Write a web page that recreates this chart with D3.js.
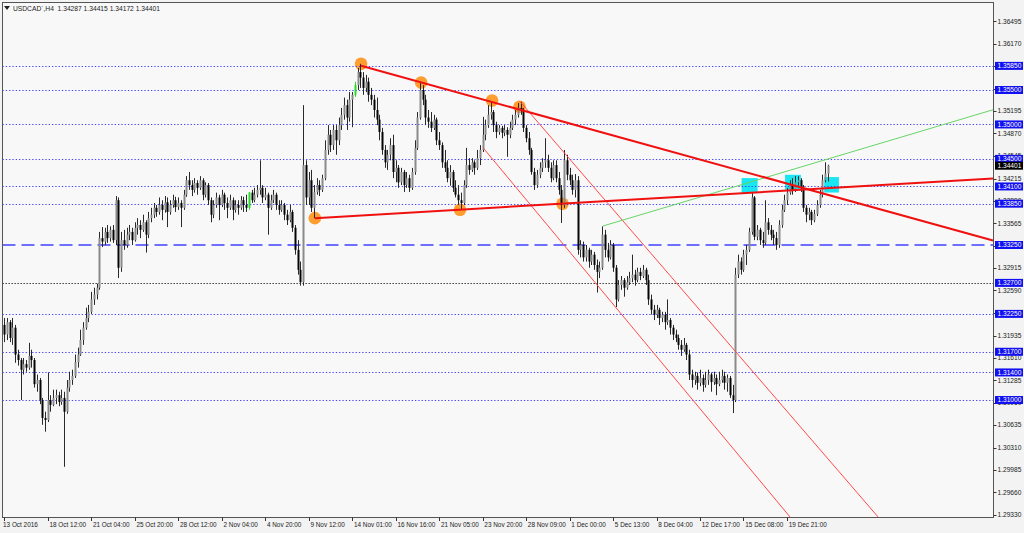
<!DOCTYPE html>
<html><head><meta charset="utf-8">
<script src="https://cdnjs.cloudflare.com/ajax/libs/d3/7.8.5/d3.min.js"></script>
<style>
html,body{margin:0;padding:0;background:#f3f3f3;}
svg{display:block;}
text{font-family:"Liberation Sans",Arial,sans-serif;}
</style></head><body>
<svg id="chart" width="1024" height="533"></svg>
<script>
// ---------- DATA ----------
const title = "USDCAD`,H4  1.34287 1.34415 1.34172 1.34401";

const opens = [
1.3209,1.3195,1.3213,1.3190,1.3205,1.3166,1.3158,1.3144,1.3152,1.3147,
1.3164,1.3158,1.3123,1.3129,1.3100,1.3074,1.3071,1.3100,1.3093,1.3103,
1.3107,1.3097,1.3103,1.3083,1.3118,1.3129,1.3135,1.3155,1.3166,1.3187,
1.3205,1.3219,1.3228,1.3246,1.3253,1.3263,1.3335,1.3330,1.3344,1.3335,
1.3347,1.3332,1.3390,1.3292,1.3332,1.3325,1.3340,1.3344,1.3332,1.3350,
1.3354,1.3347,1.3358,1.3340,1.3364,1.3369,1.3379,1.3373,1.3383,1.3376,
1.3387,1.3373,1.3383,1.3390,1.3380,1.3386,1.3379,1.3398,1.3419,1.3412,
1.3405,1.3415,1.3408,1.3419,1.3398,1.3412,1.3390,1.3369,1.3383,1.3394,
1.3383,1.3398,1.3386,1.3379,1.3390,1.3376,1.3383,1.3379,1.3390,1.3383,
1.3379,1.3401,1.3390,1.3398,1.3405,1.3408,1.3394,1.3398,1.3379,1.3390,
1.3398,1.3383,1.3376,1.3383,1.3369,1.3361,1.3373,1.3350,1.3318,1.3289,
1.3271,1.3441,1.3394,1.3419,1.3379,1.3402,1.3412,1.3405,1.3422,1.3463,
1.3485,1.3470,1.3492,1.3477,1.3499,1.3514,1.3528,1.3510,1.3536,1.3543,
1.3557,1.3576,1.3568,1.3553,1.3562,1.3543,1.3536,1.3521,1.3507,1.3489,
1.3463,1.3445,1.3456,1.3470,1.3431,1.3437,1.3416,1.3431,1.3412,1.3422,
1.3408,1.3431,1.3466,1.3510,1.3550,1.3536,1.3510,1.3504,1.3495,1.3507,
1.3477,1.3470,1.3445,1.3437,1.3422,1.3431,1.3408,1.3398,1.3390,1.3386,
1.3412,1.3441,1.3434,1.3445,1.3437,1.3451,1.3463,1.3485,1.3499,1.3514,
1.3518,1.3499,1.3489,1.3495,1.3488,1.3492,1.3485,1.3495,1.3507,1.3514,
1.3524,1.3521,1.3495,1.3480,1.3463,1.3431,1.3412,1.3427,1.3437,1.3445,
1.3448,1.3437,1.3422,1.3441,1.3422,1.3405,1.3383,1.3448,1.3427,1.3419,
1.3405,1.3419,1.3318,1.3325,1.3307,1.3318,1.3301,1.3311,1.3296,1.3286,
1.3292,1.3340,1.3318,1.3307,1.3325,1.3292,1.3246,1.3267,1.3274,1.3263,
1.3271,1.3277,1.3282,1.3274,1.3286,1.3280,1.3289,1.3274,1.3246,1.3231,
1.3224,1.3231,1.3219,1.3224,1.3213,1.3216,1.3205,1.3195,1.3190,1.3180,
1.3173,1.3180,1.3166,1.3137,1.3129,1.3135,1.3125,1.3132,1.3122,1.3129,
1.3137,1.3126,1.3132,1.3123,1.3129,1.3135,1.3125,1.3132,1.3107,1.3100,
1.3282,1.3301,1.3289,1.3311,1.3318,1.3344,1.3394,1.3337,1.3347,1.3332,
1.3328,1.3358,1.3347,1.3340,1.3335,1.3325,1.3354,1.3376,1.3390,1.3401,
1.3412,1.3405,1.3416,1.3419,1.3408,1.3379,1.3369,1.3373,1.3361,1.3370,
1.3383,1.3398,1.3419,1.34287];

const highs = [
1.3219,1.3219,1.3216,1.3219,1.3209,1.3173,1.3161,1.3161,1.3158,1.3183,
1.3173,1.3161,1.3137,1.3132,1.3103,1.3083,1.3140,1.3107,1.3115,1.3115,
1.3112,1.3115,1.3112,1.3129,1.3141,1.3144,1.3166,1.3176,1.3202,1.3213,
1.3234,1.3238,1.3257,1.3263,1.3269,1.3344,1.3351,1.3350,1.3354,1.3352,
1.3354,1.3396,1.3394,1.3344,1.3347,1.3350,1.3354,1.3350,1.3358,1.3364,
1.3361,1.3369,1.3361,1.3373,1.3379,1.3386,1.3383,1.3394,1.3390,1.3396,
1.3394,1.3390,1.3398,1.3395,1.3394,1.3390,1.3405,1.3425,1.3431,1.3419,
1.3422,1.3419,1.3425,1.3422,1.3416,1.3415,1.3394,1.3390,1.3401,1.3398,
1.3405,1.3401,1.3394,1.3398,1.3394,1.3390,1.3390,1.3396,1.3395,1.3398,
1.3402,1.3405,1.3408,1.3412,1.3448,1.3412,1.3408,1.3401,1.3398,1.3405,
1.3401,1.3390,1.3390,1.3386,1.3376,1.3383,1.3376,1.3354,1.3332,1.3301,
1.3528,1.3448,1.3431,1.3434,1.3412,1.3422,1.3419,1.3427,1.3477,1.3499,
1.3492,1.3499,1.3499,1.3510,1.3524,1.3539,1.3536,1.3547,1.3547,1.3562,
1.3582,1.3588,1.3576,1.3572,1.3568,1.3553,1.3543,1.3539,1.3514,1.3495,
1.3470,1.3463,1.3480,1.3485,1.3448,1.3441,1.3437,1.3434,1.3431,1.3427,
1.3437,1.3477,1.3518,1.3562,1.3557,1.3543,1.3521,1.3518,1.3514,1.3510,
1.3489,1.3474,1.3463,1.3448,1.3441,1.3434,1.3419,1.3412,1.3401,1.3419,
1.3466,1.3451,1.3451,1.3448,1.3463,1.3470,1.3511,1.3507,1.3528,1.3534,
1.3521,1.3504,1.3499,1.3498,1.3499,1.3496,1.3504,1.3514,1.3521,1.3531,
1.3533,1.3524,1.3499,1.3489,1.3466,1.3437,1.3434,1.3445,1.3451,1.3480,
1.3456,1.3445,1.3448,1.3448,1.3431,1.3412,1.3463,1.3456,1.3437,1.3427,
1.3428,1.3425,1.3332,1.3330,1.3325,1.3321,1.3318,1.3315,1.3304,1.3301,
1.3352,1.3347,1.3328,1.3332,1.3328,1.3296,1.3274,1.3280,1.3277,1.3280,
1.3286,1.3311,1.3289,1.3292,1.3292,1.3296,1.3292,1.3282,1.3253,1.3238,
1.3238,1.3234,1.3228,1.3228,1.3246,1.3219,1.3209,1.3202,1.3195,1.3187,
1.3190,1.3183,1.3173,1.3144,1.3141,1.3140,1.3144,1.3137,1.3141,1.3144,
1.3140,1.3141,1.3137,1.3141,1.3144,1.3141,1.3137,1.3135,1.3122,1.3292,
1.3311,1.3307,1.3318,1.3325,1.3350,1.3402,1.3396,1.3354,1.3350,1.3344,
1.3390,1.3364,1.3354,1.3347,1.3344,1.3361,1.3383,1.3398,1.3408,1.3419,
1.3422,1.3425,1.3425,1.3422,1.3412,1.3383,1.3379,1.3376,1.3376,1.3390,
1.3405,1.3427,1.3445,1.34415];

const lows = [
1.3184,1.3187,1.3184,1.3180,1.3154,1.3150,1.3100,1.3137,1.3141,1.3144,
1.3147,1.3118,1.3112,1.3094,1.3064,1.3054,1.3068,1.3083,1.3091,1.3094,
1.3091,1.3093,1.3003,1.3080,1.3112,1.3122,1.3132,1.3147,1.3164,1.3180,
1.3202,1.3213,1.3225,1.3238,1.3246,1.3260,1.3322,1.3325,1.3328,1.3330,
1.3328,1.3325,1.3277,1.3286,1.3318,1.3321,1.3332,1.3325,1.3330,1.3340,
1.3335,1.3344,1.3314,1.3335,1.3358,1.3364,1.3366,1.3369,1.3361,1.3372,
1.3351,1.3369,1.3379,1.3373,1.3376,1.3351,1.3376,1.3395,1.3405,1.3396,
1.3401,1.3398,1.3405,1.3390,1.3394,1.3383,1.3358,1.3364,1.3379,1.3361,
1.3380,1.3376,1.3364,1.3376,1.3361,1.3372,1.3369,1.3376,1.3373,1.3373,
1.3376,1.3386,1.3387,1.3394,1.3398,1.3386,1.3390,1.3340,1.3376,1.3386,
1.3376,1.3369,1.3373,1.3361,1.3354,1.3358,1.3344,1.3311,1.3282,1.3266,
1.3266,1.3383,1.3383,1.3373,1.3364,1.3398,1.3396,1.3402,1.3419,1.3456,
1.3460,1.3463,1.3456,1.3470,1.3492,1.3507,1.3492,1.3504,1.3496,1.3540,
1.3550,1.3553,1.3543,1.3547,1.3533,1.3528,1.3510,1.3499,1.3477,1.3456,
1.3437,1.3434,1.3448,1.3422,1.3416,1.3408,1.3412,1.3402,1.3408,1.3402,
1.3405,1.3427,1.3463,1.3507,1.3528,1.3499,1.3495,1.3489,1.3492,1.3470,
1.3463,1.3437,1.3431,1.3416,1.3411,1.3402,1.3394,1.3383,1.3376,1.3383,
1.3408,1.3427,1.3431,1.3427,1.3434,1.3441,1.3460,1.3477,1.3495,1.3507,
1.3489,1.3480,1.3485,1.3480,1.3483,1.3453,1.3480,1.3492,1.3499,1.3510,
1.3514,1.3489,1.3474,1.3456,1.3427,1.3405,1.3408,1.3422,1.3431,1.3437,
1.3431,1.3416,1.3419,1.3416,1.3398,1.3357,1.3379,1.3419,1.3412,1.3398,
1.3394,1.3311,1.3307,1.3301,1.3301,1.3292,1.3296,1.3289,1.3256,1.3277,
1.3289,1.3307,1.3301,1.3304,1.3286,1.3235,1.3243,1.3260,1.3250,1.3260,
1.3267,1.3271,1.3266,1.3271,1.3274,1.3277,1.3267,1.3238,1.3224,1.3216,
1.3219,1.3209,1.3213,1.3202,1.3209,1.3195,1.3187,1.3184,1.3173,1.3164,
1.3170,1.3158,1.3129,1.3118,1.3122,1.3115,1.3120,1.3112,1.3118,1.3122,
1.3112,1.3122,1.3107,1.3120,1.3125,1.3115,1.3112,1.3103,1.3081,1.3097,
1.3277,1.3282,1.3286,1.3296,1.3315,1.3340,1.3332,1.3332,1.3325,1.3321,
1.3325,1.3340,1.3332,1.3325,1.3318,1.3321,1.3350,1.3373,1.3383,1.3398,
1.3398,1.3402,1.3408,1.3402,1.3373,1.3358,1.3361,1.3354,1.3358,1.3367,
1.3379,1.3394,1.3416,1.34172];

const closes = [
1.3195,1.3213,1.3190,1.3205,1.3166,1.3158,1.3144,1.3152,1.3147,1.3164,
1.3158,1.3123,1.3129,1.3100,1.3074,1.3071,1.3100,1.3093,1.3103,1.3107,
1.3097,1.3103,1.3083,1.3118,1.3129,1.3135,1.3155,1.3166,1.3187,1.3205,
1.3219,1.3228,1.3246,1.3253,1.3263,1.3335,1.3330,1.3344,1.3335,1.3347,
1.3332,1.3390,1.3292,1.3332,1.3325,1.3340,1.3344,1.3332,1.3350,1.3354,
1.3347,1.3358,1.3340,1.3364,1.3369,1.3379,1.3373,1.3383,1.3376,1.3387,
1.3373,1.3383,1.3390,1.3380,1.3386,1.3379,1.3398,1.3419,1.3412,1.3405,
1.3415,1.3408,1.3419,1.3398,1.3412,1.3390,1.3369,1.3383,1.3394,1.3383,
1.3398,1.3386,1.3379,1.3390,1.3376,1.3383,1.3379,1.3390,1.3383,1.3379,
1.3401,1.3390,1.3398,1.3405,1.3408,1.3394,1.3398,1.3379,1.3390,1.3398,
1.3383,1.3376,1.3383,1.3369,1.3361,1.3373,1.3350,1.3318,1.3289,1.3271,
1.3441,1.3394,1.3419,1.3379,1.3402,1.3412,1.3405,1.3422,1.3463,1.3485,
1.3470,1.3492,1.3477,1.3499,1.3514,1.3528,1.3510,1.3536,1.3543,1.3557,
1.3576,1.3568,1.3553,1.3562,1.3543,1.3536,1.3521,1.3507,1.3489,1.3463,
1.3445,1.3456,1.3470,1.3431,1.3437,1.3416,1.3431,1.3412,1.3422,1.3408,
1.3431,1.3466,1.3510,1.3550,1.3536,1.3510,1.3504,1.3495,1.3507,1.3477,
1.3470,1.3445,1.3437,1.3422,1.3431,1.3408,1.3398,1.3390,1.3386,1.3412,
1.3441,1.3434,1.3445,1.3437,1.3451,1.3463,1.3485,1.3499,1.3514,1.3518,
1.3499,1.3489,1.3495,1.3488,1.3492,1.3485,1.3495,1.3507,1.3514,1.3524,
1.3521,1.3495,1.3480,1.3463,1.3431,1.3412,1.3427,1.3437,1.3445,1.3448,
1.3437,1.3422,1.3441,1.3422,1.3405,1.3383,1.3448,1.3427,1.3419,1.3405,
1.3419,1.3318,1.3325,1.3307,1.3318,1.3301,1.3311,1.3296,1.3286,1.3292,
1.3340,1.3318,1.3307,1.3325,1.3292,1.3246,1.3267,1.3274,1.3263,1.3271,
1.3277,1.3282,1.3274,1.3286,1.3280,1.3289,1.3274,1.3246,1.3231,1.3224,
1.3231,1.3219,1.3224,1.3213,1.3216,1.3205,1.3195,1.3190,1.3180,1.3173,
1.3180,1.3166,1.3137,1.3129,1.3135,1.3125,1.3132,1.3122,1.3129,1.3137,
1.3126,1.3132,1.3123,1.3129,1.3135,1.3125,1.3132,1.3107,1.3100,1.3282,
1.3301,1.3289,1.3311,1.3318,1.3344,1.3394,1.3337,1.3347,1.3332,1.3328,
1.3358,1.3347,1.3340,1.3335,1.3325,1.3354,1.3376,1.3390,1.3401,1.3412,
1.3405,1.3416,1.3419,1.3408,1.3379,1.3369,1.3373,1.3361,1.3370,1.3383,
1.3398,1.3419,1.34287,1.34401];

const greenBars = [90, 129];

const timeLabels = ["13 Oct 2016","18 Oct 12:00","21 Oct 04:00","25 Oct 20:00","28 Oct 12:00",
  "2 Nov 04:00","4 Nov 20:00","9 Nov 12:00","14 Nov 01:00","16 Nov 16:00","21 Nov 05:00",
  "23 Nov 20:00","28 Nov 09:00","1 Dec 00:00","5 Dec 13:00","8 Dec 04:00","12 Dec 17:00",
  "15 Dec 08:00","19 Dec 21:00"];
const timeLabelBars = [0,16,32,48,64,80,96,112,128,144,160,176,192,208,224,240,256,272,288];

const priceTicks = [1.36495,1.36170,1.35845,1.35520,1.35195,1.34870,1.34545,1.34215,1.33890,
  1.33565,1.33240,1.32915,1.32590,1.32265,1.31935,1.31610,1.31285,1.30960,1.30635,1.30310,
  1.29985,1.29660,1.29330];

const dottedLevels = [1.3585,1.3550,1.3500,1.3450,1.3410,1.3385,1.3225,1.3170,1.3140,1.3100];
const dashedLevels = [1.3325];
const blackLevels = [1.3270];
const lastPrice = 1.34401;

const pivotBars   = [131.3, 153.4, 179.5, 189.6, 114.3, 167.7, 205.4];
const pivotPrices = [1.35881,1.35609,1.35348,1.35256,1.33640,1.33761,1.33848];

// trend lines: [bar1, price1, bar2, price2]
const thickRedLines = [[131.3,1.35852,363.8,1.33315],[114.3,1.33640,363.8,1.34215]];
const thinRedLines  = [[176.2,1.34661,289.1,1.29303],[189.8,1.35333,321.5,1.29303]];
const greenLines    = [[220.3,1.33526,363.8,1.35213]];

// cyan zones: [bar1, bar2, priceTop, priceBottom]
const zones = [[271.3,277.2,1.34221,1.34003],[287.3,293.1,1.34269,1.34051],[301.7,307.1,1.34236,1.34012]];

// ---------- DRAW ----------
const W = 1024, H = 533;
const plot = {left: 2.5, right: 993.5, top: 2.5, bottom: 517.5};
const svg = d3.select("#chart");

const x = d3.scaleLinear().domain([0, 363.8]).range([4.2, 993]);
const y = d3.scaleLinear().domain([1.3100, 1.3550]).range([400, 90]);

svg.append("rect").attr("x",0).attr("y",0).attr("width",W).attr("height",H).attr("fill","#f3f3f3");
svg.append("rect").attr("x",plot.left).attr("y",plot.top)
  .attr("width",plot.right-plot.left).attr("height",plot.bottom-plot.top).attr("fill","#f8f8f8");

svg.append("defs").append("clipPath").attr("id","clip").append("rect")
  .attr("x",plot.left).attr("y",plot.top).attr("width",plot.right-plot.left).attr("height",plot.bottom-plot.top);
const g = svg.append("g").attr("clip-path","url(#clip)");

// zones (background)
g.selectAll("rect.zone").data(zones).enter().append("rect").attr("class","zone")
  .attr("x",d=>x(d[0])).attr("width",d=>x(d[1])-x(d[0]))
  .attr("y",d=>y(d[2])).attr("height",d=>y(d[3])-y(d[2]))
  .attr("fill","#19e6f0");

// pivot circles (background)
g.selectAll("circle.pv").data(pivotBars).enter().append("circle").attr("class","pv")
  .attr("cx",(d)=>x(d)).attr("cy",(d,i)=>y(pivotPrices[i])).attr("r",6.3)
  .attr("fill","#ff961e").attr("fill-opacity",0.92);

// horizontal levels
const crisp = v => Math.round(v)+0.5;
g.selectAll("line.dot").data(dottedLevels).enter().append("line")
  .attr("x1",plot.left).attr("x2",plot.right).attr("y1",d=>crisp(y(d))).attr("y2",d=>crisp(y(d)))
  .attr("stroke","#2f2fff").attr("stroke-width",1).attr("stroke-dasharray","1.3,2").attr("opacity",0.9);
g.selectAll("line.dash").data(dashedLevels).enter().append("line")
  .attr("x1",plot.left).attr("x2",plot.right).attr("y1",d=>y(d)).attr("y2",d=>y(d))
  .attr("stroke","#6f6fff").attr("stroke-width",2).attr("stroke-dasharray","13,6");
g.selectAll("line.blk").data(blackLevels).enter().append("line")
  .attr("x1",plot.left).attr("x2",plot.right).attr("y1",d=>crisp(y(d))).attr("y2",d=>crisp(y(d)))
  .attr("stroke","#222").attr("stroke-width",1).attr("stroke-dasharray","1.3,1.7");

// candles
const idx = d3.range(closes.length);
const isGreen = i => greenBars.includes(i);
g.selectAll("line.wick").data(idx).enter().append("line")
  .attr("x1",i=>crisp(x(i))).attr("x2",i=>crisp(x(i)))
  .attr("y1",i=>y(highs[i])).attr("y2",i=>y(lows[i]))
  .attr("stroke",i=>isGreen(i)?"#22dd22":"#2a2a2a").attr("stroke-width",1);
g.selectAll("rect.body").data(idx).enter().append("rect")
  .attr("x",i=>Math.round(x(i))-0.5).attr("width",2)
  .attr("y",i=>y(Math.max(opens[i],closes[i])))
  .attr("height",i=>Math.max(1,Math.abs(y(opens[i])-y(closes[i]))))
  .attr("fill",i=>isGreen(i)?"#22dd22":(closes[i]>=opens[i]?"#8a8a8a":"#050505"));

// trend lines
const seg = (sel, data, color, width) => sel.selectAll(null).data(data).enter().append("line")
  .attr("x1",d=>x(d[0])).attr("y1",d=>y(d[1])).attr("x2",d=>x(d[2])).attr("y2",d=>y(d[3]))
  .attr("stroke",color).attr("stroke-width",width);
seg(g, thinRedLines, "#ff4a4a", 1);
seg(g, greenLines, "#66d466", 1);
seg(g, thickRedLines, "#f01010", 2);

// frame
svg.append("rect").attr("x",plot.left).attr("y",plot.top)
  .attr("width",plot.right-plot.left).attr("height",plot.bottom-plot.top)
  .attr("fill","none").attr("stroke","#555").attr("stroke-width",1);

// title
svg.append("path").attr("d","M4,6 L10,6 L7,10 Z").attr("fill","#222");
svg.append("text").attr("x",13).attr("y",10.5).attr("font-size",6.7).attr("fill","#222")
  .attr("xml:space","preserve").text(title);

// time axis
svg.selectAll("line.tt").data(timeLabelBars).enter().append("line")
  .attr("x1",d=>crisp(x(d))).attr("x2",d=>crisp(x(d))).attr("y1",517.5).attr("y2",521)
  .attr("stroke","#333");
svg.selectAll("text.tl").data(timeLabels).enter().append("text")
  .attr("x",(d,i)=>i===0?3:x(timeLabelBars[i])+1.8).attr("y",526.5)
  .attr("font-size",6.4).attr("fill","#222").text(d=>d);

// price axis
svg.selectAll("line.pt").data(priceTicks).enter().append("line")
  .attr("x1",993.5).attr("x2",996.5).attr("y1",d=>crisp(y(d))).attr("y2",d=>crisp(y(d)))
  .attr("stroke","#333");
svg.selectAll("text.pl").data(priceTicks).enter().append("text")
  .attr("x",997.5).attr("y",d=>y(d)+2.3).attr("font-size",6.6).attr("fill","#222")
  .text(d=>d.toFixed(5));

// level labels
const allLevels = dottedLevels.concat(dashedLevels, blackLevels);
const lab = svg.selectAll("g.lv").data(allLevels).enter().append("g")
  .attr("transform",d=>`translate(995,${y(d)})`);
lab.append("rect").attr("x",0).attr("y",-4).attr("width",28).attr("height",8).attr("fill","#1010f0");
lab.append("text").attr("x",2.5).attr("y",2.4).attr("font-size",6.6).attr("fill","#fff").text(d=>d.toFixed(5));

const lp = svg.append("g").attr("transform",`translate(995,${y(lastPrice)})`);
lp.append("rect").attr("x",0).attr("y",-4).attr("width",28).attr("height",8).attr("fill","#000");
lp.append("text").attr("x",2.5).attr("y",2.4).attr("font-size",6.6).attr("fill","#fff").text(lastPrice.toFixed(5));
</script>
</body></html>
